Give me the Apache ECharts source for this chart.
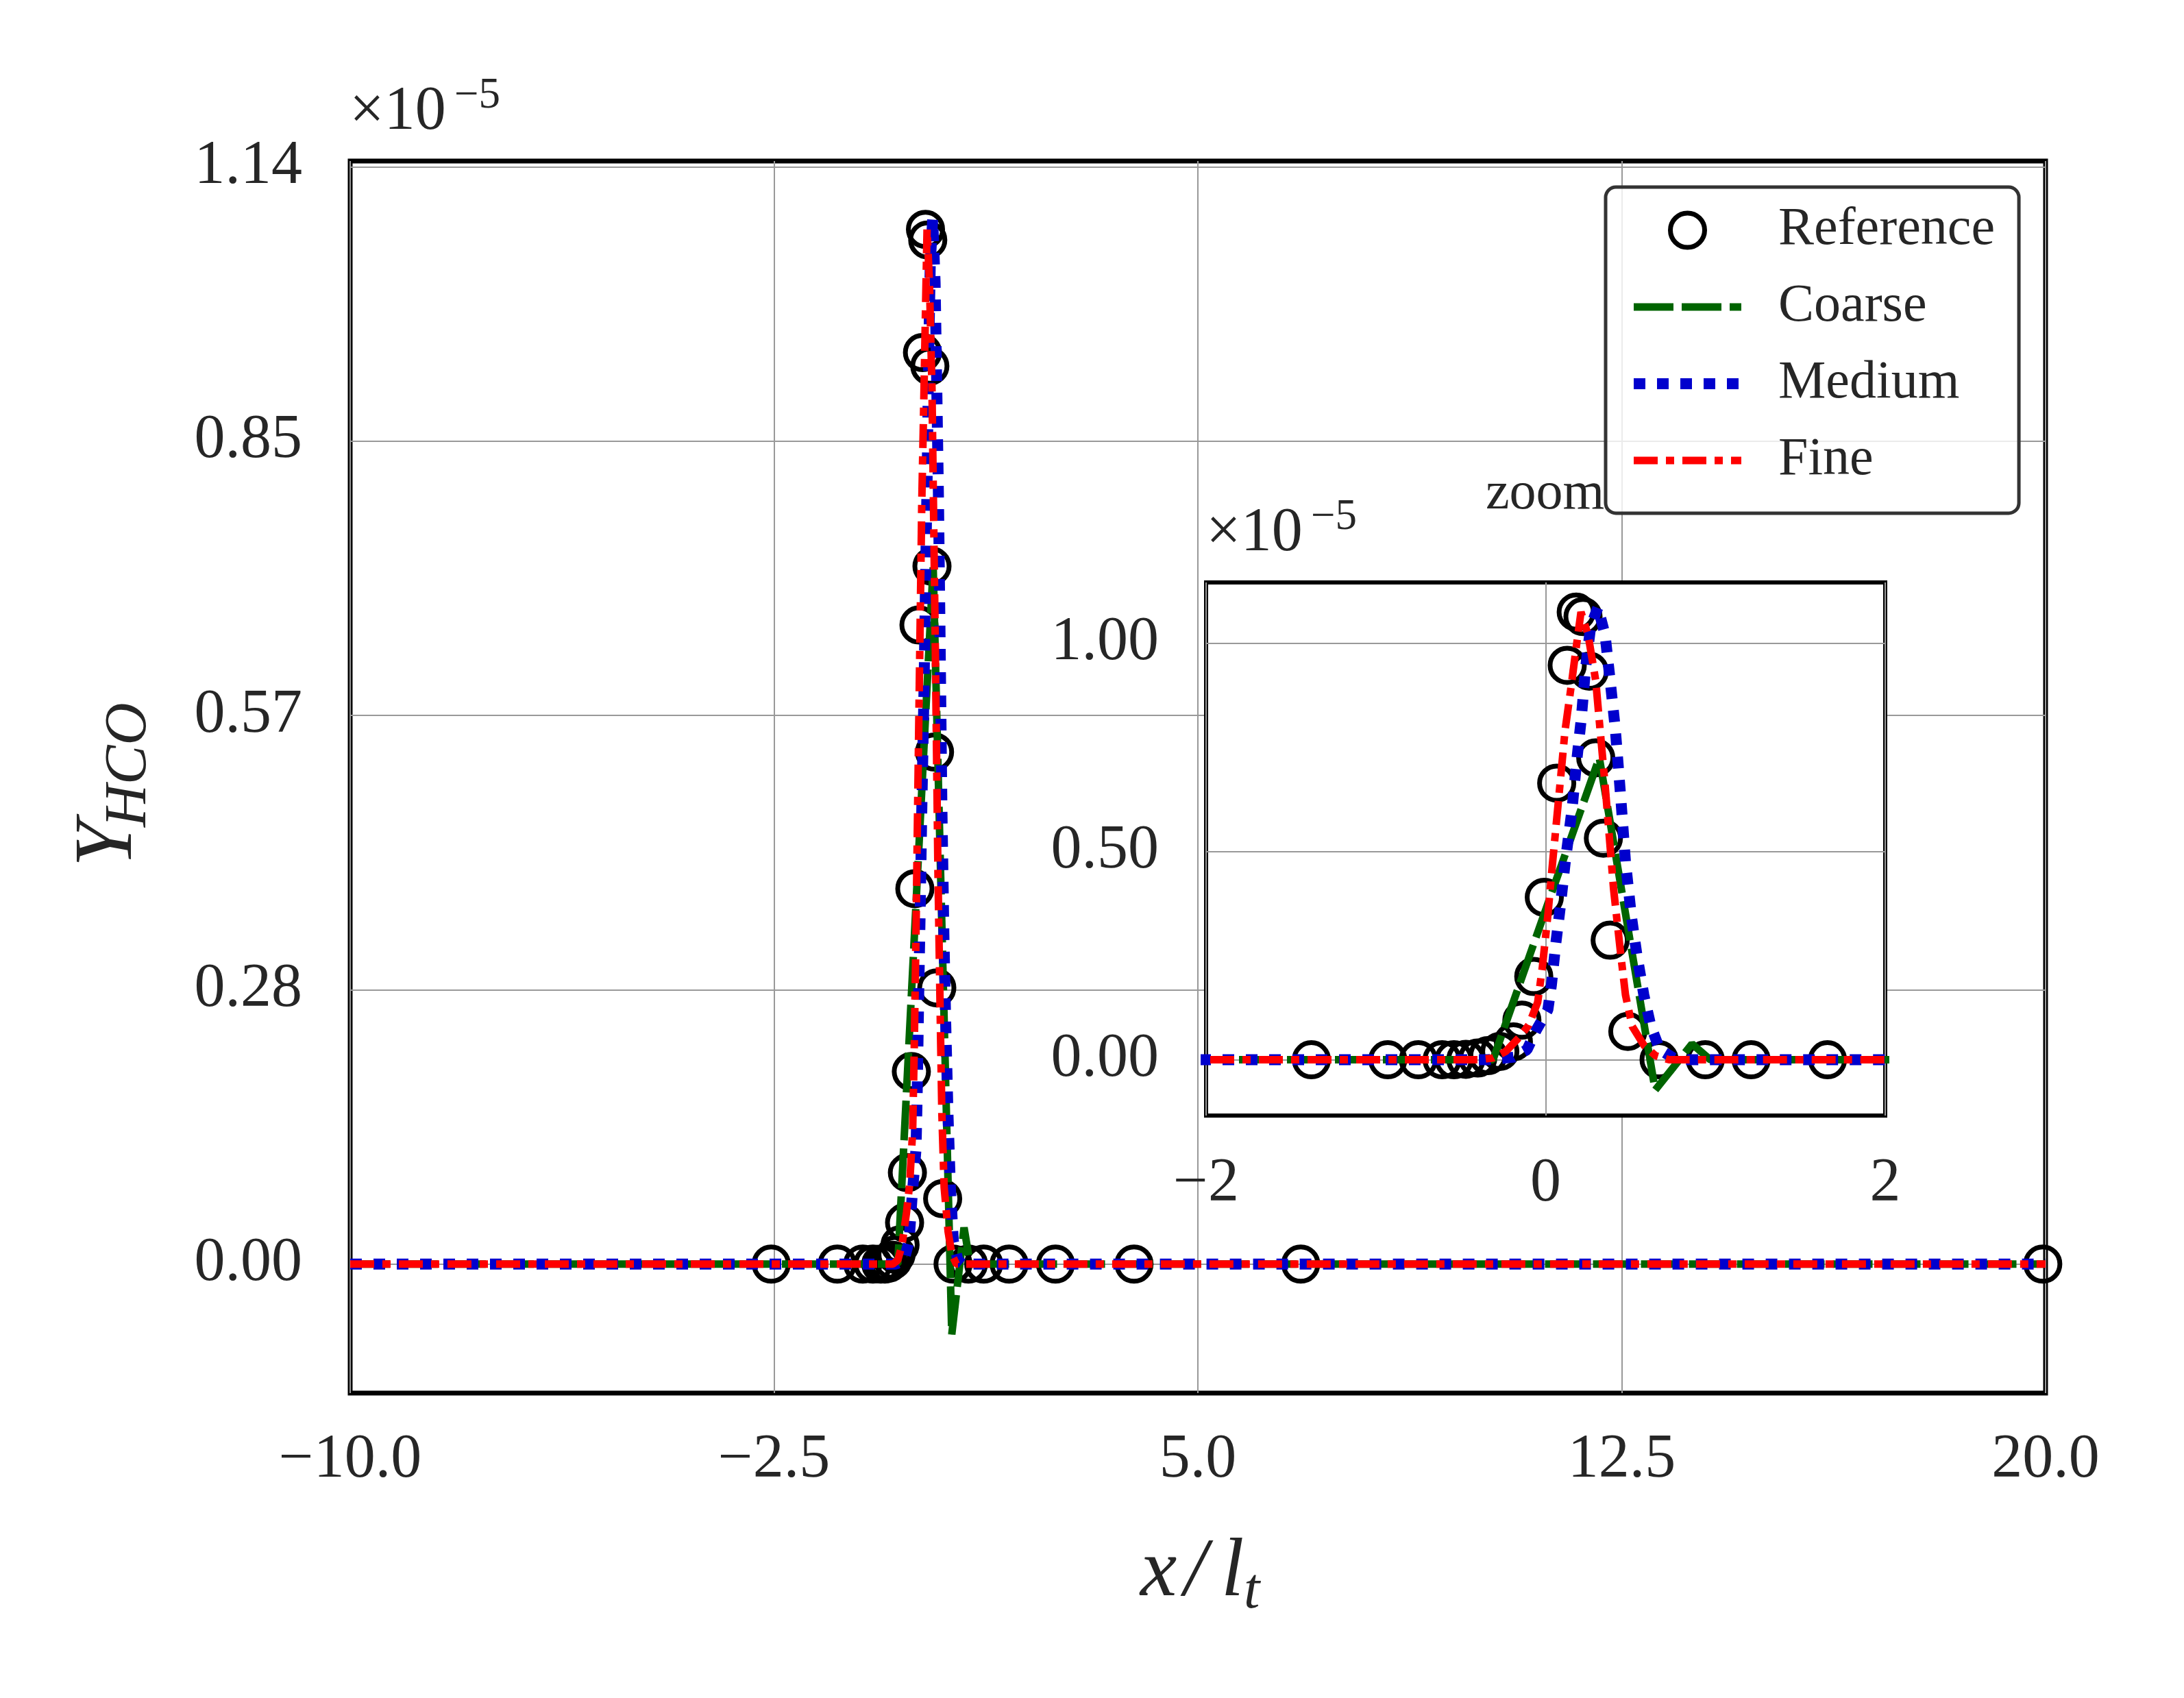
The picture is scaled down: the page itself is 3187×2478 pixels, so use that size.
<!DOCTYPE html>
<html>
<head>
<meta charset="utf-8">
<script src="https://cdn.jsdelivr.net/npm/echarts@6/dist/echarts.min.js"></script>
<style>
html, body { margin: 0; padding: 0; background: #fff; }
#chart { width: 3187px; height: 2478px; }
</style>
</head>
<body>
<div id="chart"></div>
<script>
// Y_HCO values are in units of 1e-5
const refX = [-2.55, -1.38, -0.93, -0.75, -0.61, -0.54, -0.47, -0.40, -0.34, -0.27, -0.19, -0.14, -0.07, -0.008,
  0.065, 0.127, 0.18, 0.22, 0.257, 0.295, 0.34, 0.38, 0.484, 0.668, 0.94, 1.21, 1.66, 2.48, 3.87, 6.82, 19.95];
const refY = [0, 0, 0, 0, 0, 0, 0.001, 0.004, 0.01, 0.02, 0.043, 0.095, 0.20, 0.39,
  0.664, 0.947, 1.075, 1.064, 0.933, 0.725, 0.532, 0.287, 0.068, 0, 0, 0, 0, 0, 0, 0, 0];

const coarseX = [-10, -0.31, 0.0, 0.316, 0.645, 0.862, 0.97, 20];
const coarseY = [0, 0, 0.36, 0.725, -0.073, 0.038, 0, 0];

const mediumX = [-10, -0.34, -0.19, -0.11, -0.057, 0.013, 0.034, 0.06, 0.087, 0.114, 0.155, 0.18, 0.21, 0.235, 0.265,
  0.308, 0.35, 0.38, 0.41, 0.443, 0.47, 0.505, 0.538, 0.578, 0.62, 0.673, 0.754, 0.835, 20];
const mediumY = [0, 0, 0.006, 0.024, 0.07, 0.12, 0.18, 0.28, 0.37, 0.47, 0.6, 0.706, 0.82, 0.94, 1.04,
  1.086, 1.02, 0.91, 0.795, 0.626, 0.476, 0.344, 0.25, 0.156, 0.08, 0.024, 0.004, 0, 0];

const fineX = [-10, -0.40, -0.31, -0.235, -0.155, -0.10, -0.047, -0.02, 0.013, 0.04, 0.06, 0.087, 0.114, 0.148, 0.18,
  0.208, 0.25, 0.295, 0.32, 0.35, 0.376, 0.40, 0.443, 0.47, 0.51, 0.58, 0.646, 0.727, 20];
const fineY = [0, 0, 0.004, 0.02, 0.054, 0.083, 0.138, 0.22, 0.347, 0.47, 0.556, 0.672, 0.79, 0.89, 0.99,
  1.075, 1.02, 0.91, 0.795, 0.66, 0.53, 0.41, 0.25, 0.156, 0.08, 0.034, 0.01, 0, 0];

const xTicksMain = [-10, -2.5, 5, 12.5, 20];
const yTicksMain = [0, 0.285, 0.57, 0.855, 1.14];
const xTicksZoom = [-2, 0, 2];
const yTicksZoom = [0, 0.5, 1.0];

const SERIF = 'Liberation Serif';
const INK = '#262626';

function pairs(xs, ys) {
  return xs.map((x, i) => [x, ys[i]]);
}
function minus(s) {
  return s.replace('-', '\u2212');
}

const lineStyles = {
  Coarse: { color: '#006400', type: [58, 12], width: 11 },
  Medium: { color: '#0000CD', type: [17, 17], width: 16 },
  Fine: { color: '#FF0000', type: [35, 12, 12, 12], width: 11 }
};
const lineData = {
  Coarse: pairs(coarseX, coarseY),
  Medium: pairs(mediumX, mediumY),
  Fine: pairs(fineX, fineY)
};

const circleStyle = { color: 'rgba(0,0,0,0)', borderColor: '#000', borderWidth: 7, opacity: 1 };

function makeSeries(idx, zlevel) {
  const list = [{
    name: 'Reference',
    type: 'scatter',
    xAxisIndex: idx, yAxisIndex: idx, zlevel: zlevel,
    symbol: 'circle', symbolSize: 50,
    itemStyle: circleStyle,
    data: pairs(refX, refY)
  }];
  ['Coarse', 'Medium', 'Fine'].forEach(name => {
    const st = lineStyles[name];
    list.push({
      name: name,
      type: 'line',
      xAxisIndex: idx, yAxisIndex: idx, zlevel: zlevel,
      showSymbol: false, symbol: 'none',
      color: st.color,
      lineStyle: { color: st.color, type: st.type, width: st.width, cap: 'butt', opacity: 1 },
      data: lineData[name]
    });
  });
  return list;
}

function xAxisDef(idx, min, max, ticks, fmt, margin, zlevel) {
  return {
    type: 'value', gridIndex: idx, min: min, max: max, zlevel: zlevel,
    axisLine: { show: false },
    axisTick: { show: false, customValues: ticks },
    axisLabel: {
      customValues: ticks, formatter: fmt, margin: margin,
      showMinLabel: true, showMaxLabel: true,
      fontFamily: SERIF, fontSize: 90, color: INK
    },
    splitLine: { show: true, lineStyle: { color: '#999', width: 2 } }
  };
}
function yAxisDef(idx, ticks, margin, zlevel) {
  return {
    type: 'value', gridIndex: idx, min: -0.134, max: 1.146, zlevel: zlevel,
    axisLine: { show: false },
    axisTick: { show: false, customValues: ticks },
    axisLabel: {
      customValues: ticks, formatter: v => v.toFixed(2), margin: margin,
      showMinLabel: true, showMaxLabel: true,
      fontFamily: SERIF, fontSize: 90, color: INK
    },
    splitLine: { show: true, lineStyle: { color: '#999', width: 2 } }
  };
}

function txt(text, x, y, size, italic) {
  return {
    type: 'text', x: x, y: y, z: 100,
    style: {
      text: text, fill: INK,
      font: (italic ? 'italic ' : '') + size + 'px "' + SERIF + '"',
      textAlign: 'left', textVerticalAlign: 'middle'
    }
  };
}

// line entries of the legend: hide the marker ECharts adds on top of the line
const noMarker = { color: 'rgba(0,0,0,0)', borderColor: 'rgba(0,0,0,0)', borderWidth: 0 };

const chart = echarts.init(document.getElementById('chart'), null, { renderer: 'canvas' });

chart.setOption({
  animation: false,
  backgroundColor: '#fff',
  grid: [
    { left: 511, top: 235, width: 2474, height: 1798, containLabel: false, outerBoundsMode: 'none',
      show: true, backgroundColor: '#fff', borderColor: '#000', borderWidth: 7 },
    { left: 1760, top: 850, width: 991, height: 778, containLabel: false, outerBoundsMode: 'none',
      show: true, backgroundColor: '#fff', borderColor: '#000', borderWidth: 6, zlevel: 1 }
  ],
  xAxis: [
    xAxisDef(0, -10, 20, xTicksMain, v => minus(v.toFixed(1)), 53, 0),
    xAxisDef(1, -2, 2, xTicksZoom, v => minus(String(v)), 55, 1)
  ],
  yAxis: [
    yAxisDef(0, yTicksMain, 70, 0),
    yAxisDef(1, yTicksZoom, 69, 1)
  ],
  legend: {
    orient: 'vertical', left: 2343, top: 273,
    data: [
      { name: 'Reference', itemStyle: circleStyle },
      { name: 'Coarse', itemStyle: noMarker },
      { name: 'Medium', itemStyle: noMarker },
      { name: 'Fine', itemStyle: noMarker }
    ],
    itemWidth: 157, itemHeight: 50, itemGap: 34,
    padding: [24, 35, 38, 33],
    backgroundColor: 'rgba(255,255,255,0.8)',
    borderColor: '#333', borderWidth: 5, borderRadius: 15,
    selectedMode: false,
    itemStyle: { borderWidth: 'inherit' },
    lineStyle: { width: 'inherit' },
    textStyle: { fontFamily: SERIF, fontSize: 78, color: INK, lineHeight: 50, padding: [0, 0, 0, 49] }
  },
  graphic: [
    txt('\u00d710', 510, 164, 90, false),
    txt('\u22125', 663, 140, 63, false),
    txt('\u00d710', 1760, 779, 90, false),
    txt('\u22125', 1913, 755, 63, false),
    txt('zoom', 2168, 722, 78, false),
    txt('x', 1664, 2296, 120, true),
    txt('/', 1728, 2296, 120, true),
    txt('l', 1782, 2296, 120, true),
    txt('t', 1815, 2324, 84, true),
    {
      type: 'group', x: 199, y: 1145, rotation: Math.PI / 2,
      children: [
        txt('Y', -120, -40, 120, true),
        txt('HCO', -62, -10, 86, true)
      ]
    }
  ],
  series: makeSeries(0, 0).concat(makeSeries(1, 1))
});
</script>
</body>
</html>
